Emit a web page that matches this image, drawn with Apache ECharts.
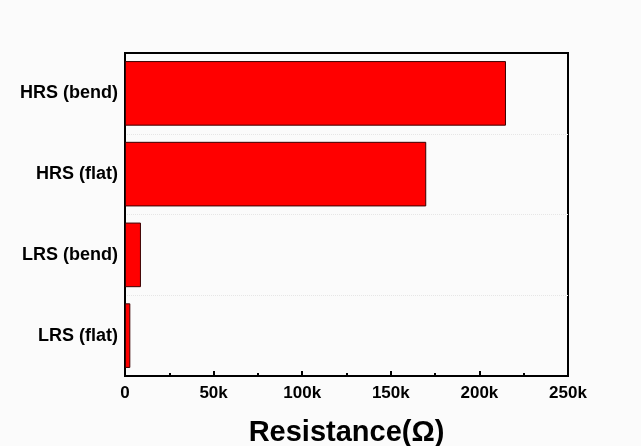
<!DOCTYPE html>
<html>
<head>
<meta charset="utf-8">
<script src="https://cdn.jsdelivr.net/npm/echarts@6/dist/echarts.min.js"></script>
<style>
  html, body { margin: 0; padding: 0; background: #fbfbfb; }
  #main { width: 641px; height: 446px; }
</style>
</head>
<body>
<div id="main"></div>
<script>
// categories bottom -> top (category axis starts at the bottom)
var states = ['LRS (flat)', 'LRS (bend)', 'HRS (flat)', 'HRS (bend)'];
var resistance = [3000, 9000, 170000, 215000];
var xTicks = [0, 50000, 100000, 150000, 200000, 250000];

var chart = echarts.init(document.getElementById('main'));
var font = 'Liberation Sans, Arial, sans-serif';

chart.setOption({
  backgroundColor: '#fbfbfb',
  animation: false,
  grid: {
    left: 125, right: 73, top: 53, bottom: 70,
    outerBoundsMode: 'none',
    show: true, borderColor: '#000', borderWidth: 2, backgroundColor: 'transparent'
  },
  xAxis: {
    type: 'value',
    min: xTicks[0],
    max: xTicks[xTicks.length - 1],
    interval: 50000,
    name: 'Resistance(Ω)',
    nameLocation: 'middle',
    nameGap: 42,
    nameTextStyle: { fontFamily: font, fontWeight: 'bold', fontSize: 29, color: '#000' },
    axisLine: { show: true, lineStyle: { color: '#000', width: 2 } },
    axisTick: { show: true, inside: true, length: 5, lineStyle: { color: '#000', width: 2 } },
    minorTick: { show: true, splitNumber: 2, length: 3, lineStyle: { color: '#000', width: 2 } },
    splitLine: { show: false },
    axisLabel: {
      fontFamily: font, fontWeight: 'bold', fontSize: 17, color: '#000', margin: 9,
      formatter: function (v) { return v === 0 ? '0' : (v / 1000) + 'k'; }
    }
  },
  yAxis: {
    type: 'category',
    data: states,
    axisLine: { show: true, lineStyle: { color: '#000', width: 2 } },
    axisTick: { show: false },
    splitLine: {
      show: true, showMinLine: false, showMaxLine: false,
      lineStyle: { color: '#e6e6e6', type: 'dotted', width: 1 }
    },
    axisLabel: { fontFamily: font, fontWeight: 'bold', fontSize: 18, color: '#000', margin: 7 }
  },
  series: [{
    type: 'bar',
    data: resistance,
    barCategoryGap: '20%',
    itemStyle: { color: '#ff0000', borderColor: '#3a0000', borderWidth: 1 }
  }]
});
</script>
</body>
</html>
